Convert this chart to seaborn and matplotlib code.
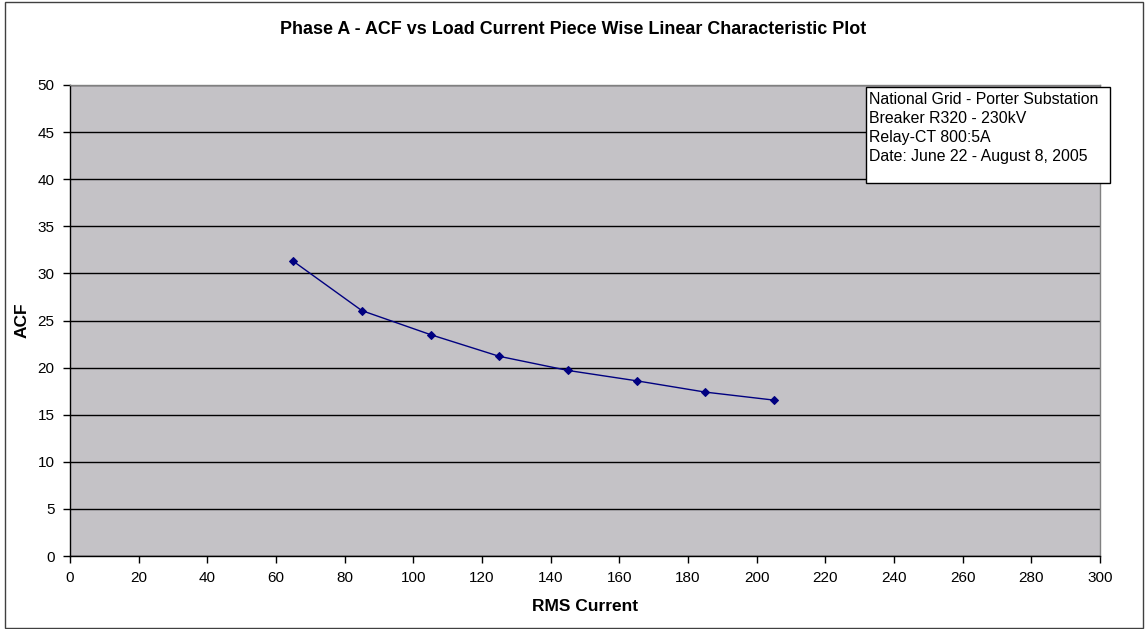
import matplotlib
matplotlib.use("Agg")
import matplotlib.pyplot as plt
import seaborn as sns
import pandas as pd
from matplotlib.patches import Rectangle

rms_current = [65, 85, 105, 125, 145, 165, 185, 205]
acf = [31.3, 26.05, 23.5, 21.2, 19.7, 18.6, 17.4, 16.55]
x_ticks = list(range(0, 301, 20))
y_ticks = list(range(0, 51, 5))
info_lines = ["National Grid - Porter Substation", "Breaker R320 - 230kV",
              "Relay-CT 800:5A", "Date: June 22 - August 8, 2005"]

sns.set_style("white")
plt.rcParams['font.family'] = ['Liberation Sans', 'DejaVu Sans']

df = pd.DataFrame({"RMS Current": rms_current, "ACF": acf})

fig = plt.figure(figsize=(11.46, 6.29), dpi=100)
ax = fig.add_axes([70/1146, 1-556/629, 1030/1146, 471/629])
ax.set_facecolor("#C4C2C6")

sns.lineplot(data=df, x="RMS Current", y="ACF", ax=ax, color="#000080",
             linewidth=1.0, marker="D", markersize=4.5, markeredgecolor="#000080",
             markerfacecolor="#000080")

ax.set_xlim(0, 300)
ax.set_ylim(0, 50)
ax.set_xticks(x_ticks)
ax.set_yticks(y_ticks)
ax.yaxis.grid(True, color="black", linewidth=1.0)
ax.xaxis.grid(False)
ax.set_axisbelow(True)
for s in ["top", "right"]:
    ax.spines[s].set_color("#808080")
    ax.spines[s].set_linewidth(1.0)
for s in ["left", "bottom"]:
    ax.spines[s].set_color("black")
    ax.spines[s].set_linewidth(1.0)
ax.tick_params(axis="both", direction="out", length=5, width=1, color="black",
               labelsize=11, pad=6, bottom=True, left=True, labelcolor="black")
ax.set_xlabel("RMS Current", fontsize=12.5, fontweight="bold", labelpad=10, color="black")
ax.set_ylabel("ACF", fontsize=12.5, fontweight="bold", labelpad=6, color="black")

fig.text(0.5, 1-30/629, "Phase A - ACF vs Load Current Piece Wise Linear Characteristic Plot",
         ha="center", va="center", fontsize=12.9, fontweight="bold", color="black")

# figure border
fig.patches.append(Rectangle((5/1146, 1/629), 1138/1146, 626/629, transform=fig.transFigure,
                             fill=False, edgecolor="#404040", linewidth=1.0))

# info box
fig.patches.append(Rectangle((866/1146, 1-183/629), 244/1146, 96/629, transform=fig.transFigure,
                             facecolor="white", edgecolor="black", linewidth=1.0, zorder=5))
for i, line in enumerate(info_lines):
    fig.text(869/1146, 1-(99+19.3*i)/629, line, ha="left", va="center", fontsize=11.4,
             color="black", zorder=6)

fig.savefig("out.png", dpi=100)
